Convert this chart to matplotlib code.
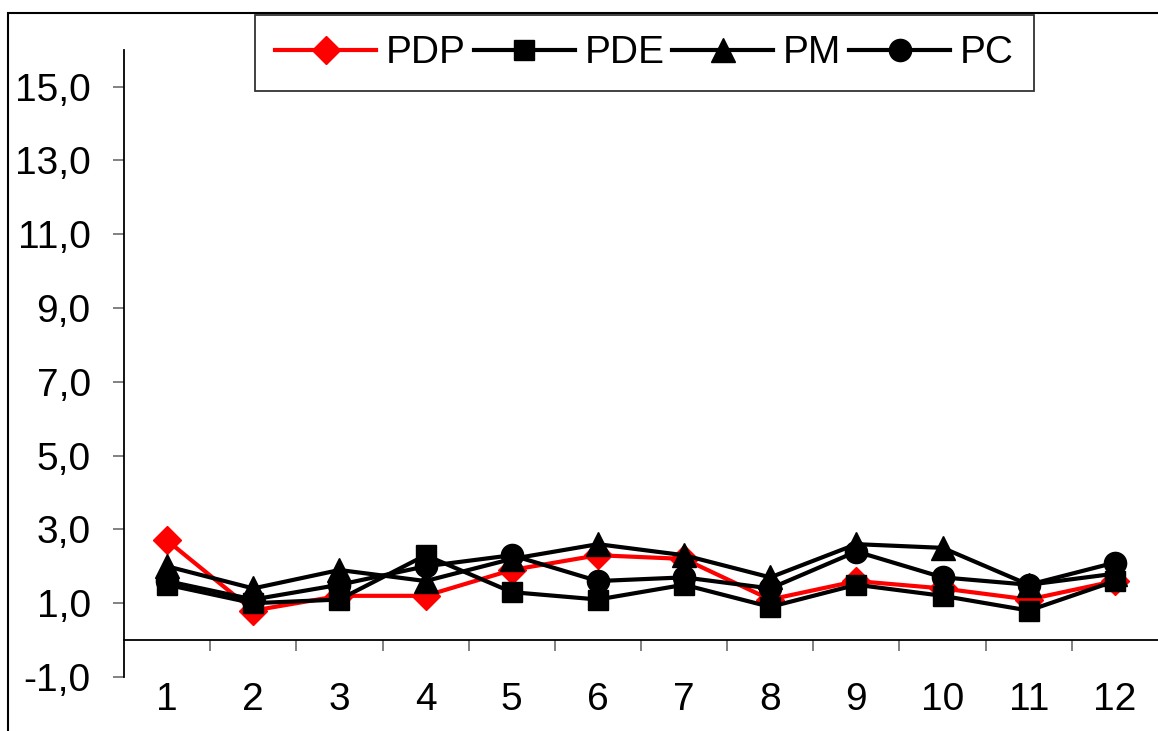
import matplotlib.pyplot as plt
import matplotlib.patches as mpatches
from matplotlib.ticker import FixedLocator

plt.rcParams['font.family'] = ['Liberation Sans', 'DejaVu Sans']

# monthly values for the four series
months = list(range(1, 13))
pdp = [2.7, 0.8, 1.2, 1.2, 1.9, 2.3, 2.2, 1.1, 1.6, 1.4, 1.1, 1.6]
pde = [1.5, 1.0, 1.1, 2.3, 1.3, 1.1, 1.5, 0.9, 1.5, 1.2, 0.8, 1.6]
pm = [2.0, 1.4, 1.9, 1.6, 2.2, 2.6, 2.3, 1.7, 2.6, 2.5, 1.5, 1.8]
pc = [1.6, 1.1, 1.5, 2.0, 2.3, 1.6, 1.7, 1.4, 2.4, 1.7, 1.5, 2.1]

y_ticks = [-1, 1, 3, 5, 7, 9, 11, 13, 15]
y_labels = ['-1,0', '1,0', '3,0', '5,0', '7,0', '9,0', '11,0', '13,0', '15,0']

fs = 28

fig = plt.figure(figsize=(11.58, 7.31), dpi=100)
ax = fig.add_axes([124 / 1158, 54 / 731, 1 - 124 / 1158, 0.9320 - 54 / 731])

lw = 3.0
ax.plot(months, pdp, color='red', lw=lw, marker='D', ms=14, mec='red', mfc='red', label='PDP')
ax.plot(months, pde, color='black', lw=lw, marker='s', ms=15, mec='black', mfc='black', label='PDE')
ax.plot(months, pm, color='black', lw=lw, marker='^', ms=17, mec='black', mfc='black', label='PM')
ax.plot(months, pc, color='black', lw=lw, marker='o', ms=16, mec='black', mfc='black', label='PC')

ax.set_xlim(0.5, 12.5)
ax.set_ylim(-1, 16)

ax.spines['top'].set_visible(False)
ax.spines['right'].set_visible(False)
ax.spines['bottom'].set_position(('data', 0))
ax.spines['bottom'].set_linewidth(1.3)
ax.spines['left'].set_linewidth(1.3)

ax.set_yticks(y_ticks)
ax.set_yticklabels(y_labels, fontsize=fs)
ax.tick_params(axis='y', length=8, width=1.3, color='#777777', pad=16)

# category boundaries as major ticks, month numbers on minor ticks
ax.xaxis.set_major_locator(FixedLocator([m + 0.5 for m in months[:-1]]))
ax.xaxis.set_minor_locator(FixedLocator(months))
ax.set_xticklabels([], minor=False)
ax.set_xticklabels([str(m) for m in months], minor=True, fontsize=fs)
ax.tick_params(axis='x', which='major', length=8, width=1.3, color='#777777', direction='out')
ax.tick_params(axis='x', which='minor', length=0, pad=30)

leg = ax.legend(loc='upper left', bbox_to_anchor=(255 / 1158, 1 - 15 / 731),
                bbox_transform=fig.transFigure, ncol=4, fontsize=fs,
                frameon=True, fancybox=False, borderaxespad=0,
                handlelength=2.6, handletextpad=0.25, columnspacing=0.2,
                borderpad=0.52)
leg.get_frame().set_edgecolor('black')
leg.get_frame().set_linewidth(1.3)

# outer chart border
fig.patches.append(mpatches.Rectangle((8 / 1158, -0.1), 1.2, 1.1 - 13 / 731,
                                      transform=fig.transFigure, fill=False,
                                      edgecolor='black', linewidth=1.5))

fig.savefig('out.png', dpi=100)
